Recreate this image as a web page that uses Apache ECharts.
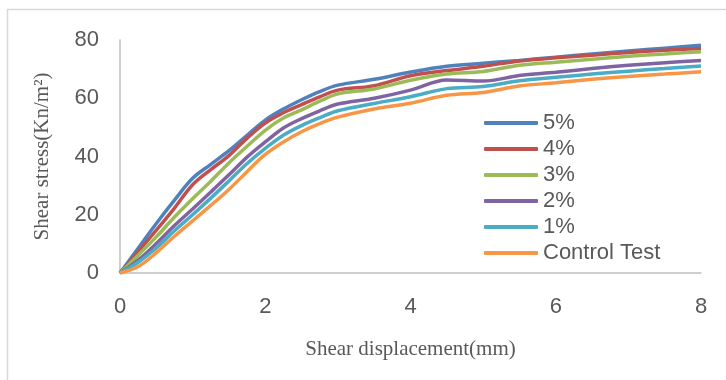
<!DOCTYPE html>
<html>
<head>
<meta charset="utf-8">
<script src="https://cdn.jsdelivr.net/npm/echarts@6/dist/echarts.min.js"></script>
<style>html,body{margin:0;padding:0;background:#fff}#c{width:726px;height:380px}</style>
</head>
<body>
<div id="c"></div>
<script>
const displacement = [0, 0.25, 0.5, 0.75, 1, 1.25, 1.5, 1.75, 2, 2.25, 2.5, 2.75, 3, 3.5, 4, 4.5, 5, 5.5, 6, 6.5, 7, 7.5, 8];
const s5 = [0, 8.5, 17, 25, 32.5, 37.3, 42, 47.3, 52.5, 56.3, 59.5, 62.3, 64.5, 66.5, 69, 71, 72, 73, 74.1, 75.2, 76.2, 77.2, 78.2];
const s4 = [0, 7.3, 14.7, 22.3, 30.3, 35.5, 40.3, 46.3, 51.5, 55, 57.8, 60.5, 62.8, 64.3, 67.7, 69.5, 71, 72.8, 73.9, 74.8, 75.7, 76.5, 77.1];
const s3 = [0, 6.1, 12.4, 19.2, 25.5, 31.5, 37.8, 43.5, 49, 53.2, 56, 59, 61.5, 63.2, 66.2, 68.3, 69.2, 71.3, 72.4, 73.4, 74.4, 75.2, 76];
const s2 = [0, 4.4, 10.1, 16.3, 22, 27.8, 33.7, 39.8, 45, 49.8, 53, 55.7, 58, 60, 62.8, 66.3, 65.9, 67.8, 68.9, 70.2, 71.3, 72.2, 73];
const s1 = [0, 3.7, 8.6, 14.5, 20, 25.7, 31.6, 37.6, 42.8, 47.3, 50.6, 53.3, 55.7, 58.2, 60.5, 63.3, 64, 66, 67.2, 68.3, 69.3, 70.2, 71.1];
const control = [0, 2.2, 7, 12.6, 17.9, 23.2, 28.7, 34.8, 40.7, 45, 48.5, 51.3, 53.5, 56.3, 58.3, 61, 62, 64.2, 65.3, 66.5, 67.5, 68.3, 69.1];
const seriesNames = ['5%', '4%', '3%', '2%', '1%', 'Control Test'];
const seriesValues = [s5, s4, s3, s2, s1, control];
const colors = ['#4f81bd', '#c0504d', '#9bbb59', '#8064a2', '#4bacc6', '#f79646'];
const xTitle = 'Shear displacement(mm)';
const yTitle = 'Shear stress(Kn/m²)';

const chart = echarts.init(document.getElementById('c'), null, {renderer: 'canvas'});
const series = seriesNames.map((n, i) => ({
  name: n,
  type: 'line',
  data: displacement.map((x, j) => [x, seriesValues[i][j]]),
  smooth: 0.35,
  showSymbol: false,
  symbol: 'none',
  lineStyle: {width: 3.5, color: colors[i]},
  itemStyle: {color: colors[i]},
  z: 2
}));
chart.setOption({
  animation: false,
  color: colors,
  graphic: [{
    type: 'rect',
    shape: {x: 7.5, y: 9.5, width: 740, height: 400},
    style: {fill: 'none', stroke: '#d9d9d9', lineWidth: 1.5},
    silent: true
  }],
  grid: {left: 120, right: 25, top: 40, bottom: 107, containLabel: false},
  legend: {
    orient: 'vertical',
    left: 479,
    top: 107,
    icon: 'roundRect',
    itemWidth: 54,
    itemHeight: 4,
    itemGap: 4,
    textStyle: {fontFamily: 'Liberation Sans, Arial, sans-serif', fontSize: 22, color: '#595959', lineHeight: 22},
    data: seriesNames
  },
  xAxis: {
    type: 'value', min: 0, max: 8, interval: 2,
    name: xTitle, nameLocation: 'middle', nameGap: 66,
    nameTextStyle: {fontFamily: 'Liberation Serif, Times New Roman, serif', fontSize: 21, color: '#595959'},
    axisLine: {show: true, lineStyle: {color: '#bfbfbf', width: 1.5}},
    axisTick: {show: false},
    splitLine: {show: false},
    axisLabel: {fontFamily: 'Liberation Sans, Arial, sans-serif', fontSize: 22, color: '#595959', margin: 23}
  },
  yAxis: {
    type: 'value', min: 0, max: 80, interval: 20,
    name: yTitle, nameLocation: 'middle', nameGap: 67,
    nameTextStyle: {fontFamily: 'Liberation Serif, Times New Roman, serif', fontSize: 21, color: '#595959'},
    axisLine: {show: true, lineStyle: {color: '#bfbfbf', width: 1.5}},
    axisTick: {show: false},
    splitLine: {show: false},
    axisLabel: {fontFamily: 'Liberation Sans, Arial, sans-serif', fontSize: 22, color: '#595959', margin: 21}
  },
  series: series
});
</script>
</body>
</html>
